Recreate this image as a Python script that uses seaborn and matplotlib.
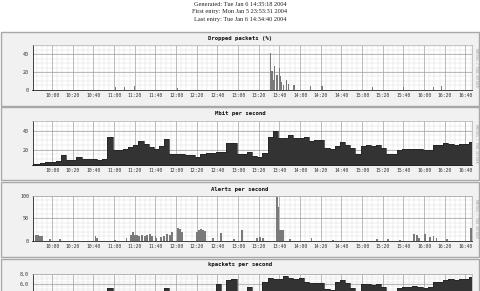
import numpy as np
import pandas as pd
import matplotlib
matplotlib.use("Agg")
import matplotlib.pyplot as plt
from matplotlib.patches import Rectangle
import seaborn as sns

# ---------------- data (minutes since midnight) ----------------
t_start, t_end = 581, 1006
times = list(range(581, 1007, 5))

mbit = [5, 5, 6, 7.5, 7.5, 8.5, 14, 9, 9, 12,
        10.5, 10.5, 10, 9.5, 10, 33, 20, 20, 21, 23,
        25, 29, 26, 23, 21, 24, 31, 16, 15.5, 15.5,
        14.5, 14.5, 12.5, 16, 16.5, 17, 17.5, 18, 27, 27.5,
        16, 15.5, 18, 13, 12.5, 17, 33, 40, 32, 32,
        35, 32, 32, 33, 29, 30, 30, 22, 21, 24,
        28, 25, 22, 16, 24, 25, 24, 25, 22, 15,
        15, 20, 21, 21, 21, 21, 19.5, 20, 25, 25,
        27, 26, 25, 26, 26, 28]

kpackets = [1.5, 1.5, 1.6, 1.8, 1.8, 2.0, 2.2, 2.2, 2.3, 2.4,
            2.4, 2.3, 2.3, 2.4, 2.4, 5.2, 4.0, 4.0, 4.1, 4.2,
            4.3, 4.4, 4.2, 4.0, 4.0, 4.3, 5.1, 3.6, 3.5, 3.5,
            3.4, 3.4, 3.2, 3.6, 3.7, 3.8, 5.9, 4.0, 6.8, 7.0,
            4.2, 4.0, 5.4, 4.2, 4.0, 6.5, 7.3, 7.0, 7.1, 7.6,
            7.3, 7.0, 7.2, 6.4, 6.3, 6.3, 6.2, 5.0, 4.8, 6.5,
            6.8, 6.2, 5.2, 4.4, 5.9, 5.9, 5.7, 5.9, 5.4, 4.0,
            4.0, 5.2, 5.4, 5.4, 5.5, 5.4, 5.2, 5.3, 6.4, 6.4,
            6.9, 7.0, 6.8, 7.0, 7.0, 7.5]

drop_t = [661, 670, 680, 721, 811, 812.6, 814, 815, 817.5, 820, 821, 822,
          824, 826.6, 829, 834, 850, 861, 910, 940, 969, 977]
drop_v = [3, 3.5, 4, 2, 42, 21, 11, 27, 17, 25, 15, 9,
          5, 11, 7, 5, 4, 4, 3, 2.5, 2.5, 4]

alert_t = [582, 584, 586, 588, 590, 598, 608, 642, 643, 661, 672,
           676, 678, 680, 682, 684, 687, 690, 692, 695, 697,
           700, 701, 705, 708, 711, 714, 716, 722, 724, 726,
           740, 742, 744, 746, 748, 756, 763, 776, 784, 798, 801, 804,
           818, 819, 820, 821, 822, 823, 830, 851, 872, 914, 925, 937,
           950, 953, 955, 961, 966, 969, 972, 982, 1005]
alert_v = [12, 12, 12, 11, 10, 4, 3, 10, 5, 2, 5,
           13, 20, 13, 12, 11, 13, 10, 12, 14, 10,
           11, 6, 9, 10, 15, 12, 20, 28, 27, 20,
           20, 24, 27, 25, 22, 5, 18, 4, 25, 6, 8, 5,
           97, 75, 25, 25, 24, 24, 3, 5, 2, 3, 4, 2,
           15, 12, 6, 16, 8, 10, 7, 3, 28]

tick_labels = ["10:00", "10:20", "10:40", "11:00", "11:20", "11:40", "12:00",
               "12:20", "12:40", "13:00", "13:20", "13:40", "14:00", "14:20",
               "14:40", "15:00", "15:20", "15:40", "16:00", "16:20", "16:40"]
tick_pos = [600 + 20 * i for i in range(len(tick_labels))]

header = ["Generated: Tue Jan 6 14:35:18 2004",
          "First entry: Mon Jan 5 23:53:31 2004",
          "Last entry: Tue Jan 6 14:34:40 2004"]

titles = ["Dropped packets (%)", "Mbit per second", "Alerts per second",
          "kpackets per second"]

# ---------------- figure ----------------
sns.set_theme(style="white")
plt.rcParams['font.family'] = ['DejaVu Sans']
W, H = 481, 291
fig = plt.figure(figsize=(W / 100, H / 100), dpi=100)
fig.patch.set_facecolor("white")

def fy(y):
    return 1 - y / H

# background layer for panel boxes
bg = fig.add_axes([0, 0, 1, 1], zorder=-5)
bg.set_xlim(0, W)
bg.set_ylim(H, 0)
bg.axis("off")
boxes = [(32, 106), (107, 180), (182, 257), (259, 300)]
for (top, bot) in boxes:
    bg.add_patch(Rectangle((1, top), 478, bot - top, facecolor="#f1f1f1",
                           edgecolor="#a8a8a8", linewidth=1.0))

# header text
for i, line in enumerate(header):
    fig.text(240 / W, fy(4.5 + 7.3 * i), line, ha="center", va="center",
             fontsize=4.6, family="Liberation Serif", color="#222222")

# axes specs: (top px, bottom px, ylim, major, minor, tick fmt, labelled ticks)
left_px, right_px = 32.5, 471.7
specs = [
    (44.7, 89.7, (0, 51), [0, 20, 40], 5, "{:.0f}", [0, 20, 40]),
    (121.0, 165.0, (3.9, 50.2), [20, 40], 5, "{:.0f}", [20, 40]),
    (196.0, 240.7, (0, 100), [0, 50, 100], 10, "{:.0f}", [0, 50, 100]),
    (274.3, 313.1, (0, 8), [0, 2, 4, 6, 8], 0.5, "{:.1f}", [6, 8]),
]
title_y = [38.3, 114.0, 189.3, 264.3]
axes = []
for i, (top, bot, ylim, major, minor, fmt, shown) in enumerate(specs):
    ax = fig.add_axes([left_px / W, fy(bot), (right_px - left_px) / W, (bot - top) / H],
                      zorder=2)
    ax.set_facecolor("white")
    ax.set_xlim(t_start, t_end)
    ax.set_ylim(*ylim)
    for m in range(585, 1006, 5):
        if m % 20 == 0:
            continue
        ax.axvline(m, color="#dedede", lw=0.35, zorder=0.5)
    for m in tick_pos:
        ax.axvline(m, color="#a0a0a0", lw=0.5, zorder=0.6)
    for v in np.arange(0, ylim[1] + 1e-9, minor):
        if v > ylim[0]:
            ax.axhline(v, color="#dedede", lw=0.35, zorder=0.5)
    for v in major:
        if ylim[0] < v <= ylim[1]:
            ax.axhline(v, color="#a0a0a0", lw=0.5, zorder=0.6)
    ax.set_yticks(shown)
    ax.set_yticklabels([fmt.format(v) for v in shown],
                       fontsize=3.6, family="DejaVu Sans Mono", color="#333333")
    ax.set_xticks(tick_pos)
    if i < 3:
        ax.set_xticklabels(tick_labels, fontsize=3.4, family="DejaVu Sans Mono",
                           color="#333333")
    else:
        ax.set_xticklabels([])
    ax.tick_params(axis="both", length=1.5, width=0.4, pad=1.0, colors="#333333")
    for s in ["left", "bottom"]:
        ax.spines[s].set_color("#222222")
        ax.spines[s].set_linewidth(0.6)
    for s in ["top", "right"]:
        ax.spines[s].set_color("#b0b0b0")
        ax.spines[s].set_linewidth(0.5)
    axes.append(ax)

for ax_i, (ty, title) in enumerate(zip(title_y, titles)):
    fig.text(240 / W, fy(ty), title, ha="center", va="center", fontsize=4.1,
             family="DejaVu Sans Mono", weight="bold", color="#111111")
    if ax_i < 3:
        top, bot = specs[ax_i][0], specs[ax_i][1]
        fig.text(476.5 / W, fy((top + bot) / 2), "RRDTOOL / TOBI OETIKER",
                 rotation=270, ha="center", va="center", fontsize=2.2,
                 family="DejaVu Sans Mono", color="#999999")

# dropped packets
ax = axes[0]
ax.bar(drop_t, drop_v, width=1.3, color="#7a7a7a", linewidth=0, zorder=2)

# Mbit
ax = axes[1]
df_m = pd.DataFrame({"t": times, "v": mbit})
ax.fill_between(df_m["t"], 0, df_m["v"], step="mid", color="#333333",
                linewidth=0, zorder=2)
sns.lineplot(data=df_m, x="t", y="v", ax=ax, drawstyle="steps-mid",
             color="#222222", lw=0.5, zorder=3)
ax.set_xlabel(""); ax.set_ylabel("")

# Alerts
ax = axes[2]
ax.bar(alert_t, alert_v, width=1.8, color="#7a7a7a", linewidth=0, zorder=2)

# kpackets
ax = axes[3]
df_k = pd.DataFrame({"t": times, "v": kpackets})
ax.fill_between(df_k["t"], 0, df_k["v"], step="mid", color="#333333",
                linewidth=0, zorder=2)
sns.lineplot(data=df_k, x="t", y="v", ax=ax, drawstyle="steps-mid",
             color="#222222", lw=0.5, zorder=3)
ax.set_xlabel(""); ax.set_ylabel("")

for ax in axes:
    ax.set_xlim(t_start, t_end)

fig.savefig("out.png", dpi=100)
